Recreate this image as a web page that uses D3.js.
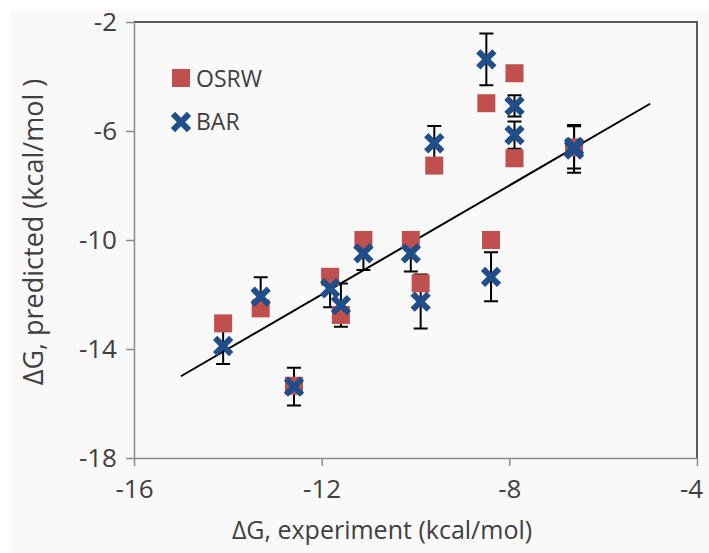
<!DOCTYPE html>
<html>
<head>
<meta charset="utf-8">
<script src="https://cdn.jsdelivr.net/npm/d3@7"></script>
<style>
    body { margin: 0; background: #fff; }
    text { font-family: "Open Sans", "Noto Sans", sans-serif; fill: #404040; }
</style>
</head>
<body>
<div id="chart"></div>
<script>
// Chart data
const xTicks = [-16, -12, -8, -4];
const yTicks = [-18, -14, -10, -6, -2];
const seriesNames = ['OSRW', 'BAR'];

// OSRW predictions against experiment
const osrwExperiment = [-14.10, -13.30, -12.59, -11.82, -11.59, -11.11, -10.10, -9.89, -9.60, -8.49, -8.39, -7.89, -7.89, -6.62];
const osrwPredicted = [-13.06, -12.51, -15.35, -11.35, -12.75, -10.00, -10.00, -11.59, -7.27, -4.98, -10.00, -3.88, -7.00, -6.60];

// BAR predictions with their error bars
const barExperiment = [-14.10, -13.30, -12.59, -11.82, -11.59, -11.11, -10.10, -9.89, -9.60, -8.49, -8.39, -7.89, -7.89, -6.62, -6.62];
const barPredicted = [-13.89, -12.08, -15.38, -11.77, -12.39, -10.49, -10.49, -12.26, -6.45, -3.37, -11.35, -5.08, -6.15, -6.58, -6.68];
const barError = [0.66, 0.71, 0.69, 0.70, 0.79, 0.61, 0.67, 0.99, 0.63, 0.95, 0.90, 0.39, 0.50, 0.80, 0.85];

// Ideal line y = x
const fitLine = [[-15, -15], [-5, -5]];

const width = 709, height = 553;
const plotLeft = 134, plotRight = 697, plotTop = 22, plotBottom = 458;
const red = '#c0504d', blue = '#1f4e8a';

const svg = d3.select('#chart')
    .append('svg')
    .attr('width', width)
    .attr('height', height);

// Light grey background
svg.append('rect')
    .attr('x', 10).attr('y', 10)
    .attr('width', width - 10).attr('height', height - 10)
    .style('fill', '#f9f9f9');

const x = d3.scaleLinear().domain([-16, -4]).range([plotLeft, plotRight]);
const y = d3.scaleLinear().domain([-18, -2]).range([plotBottom, plotTop]);

// Top and right frame
svg.append('path')
    .attr('d', 'M' + plotLeft + ',' + plotTop + 'H' + plotRight + 'V' + plotBottom)
    .style('fill', 'none')
    .style('stroke', '#595959')
    .style('stroke-width', '2px');

// Axes (plain hyphen for the minus sign)
const fmt = d => String(d);
const xAxis = svg.append('g')
    .attr('transform', 'translate(0,' + plotBottom + ')')
    .call(d3.axisBottom(x).tickValues(xTicks).tickFormat(fmt).tickSize(8).tickSizeOuter(0).tickPadding(14));
const yAxis = svg.append('g')
    .attr('transform', 'translate(' + plotLeft + ',0)')
    .call(d3.axisLeft(y).tickValues(yTicks).tickFormat(fmt).tickSize(8).tickSizeOuter(0).tickPadding(9));

[xAxis, yAxis].forEach(axis => {
    axis.select('.domain').style('stroke', '#8c8c8c').style('stroke-width', '1.5px');
    axis.selectAll('.tick line').style('stroke', '#8c8c8c').style('stroke-width', '1.5px');
    axis.selectAll('.tick text')
        .style('font-family', '"Open Sans", sans-serif')
        .style('font-size', '26px')
        .style('fill', '#404040');
});
xAxis.selectAll('.tick text').attr('dy', '0.71em');
// keep the last label inside the page
xAxis.selectAll('.tick text').filter(d => d === -4).attr('x', -6);

// Axis titles
svg.append('text')
    .attr('x', 382)
    .attr('y', 539)
    .attr('text-anchor', 'middle')
    .style('font-size', '25px')
    .text('ΔG, experiment (kcal/mol)');

svg.append('text')
    .attr('transform', 'translate(43,' + 232 + ') rotate(-90)')
    .attr('text-anchor', 'middle')
    .style('font-size', '27px')
    .text('ΔG, predicted (kcal/mol )');

// Ideal line
svg.append('path')
    .datum(fitLine)
    .attr('d', d3.line().x(d => x(d[0])).y(d => y(d[1])))
    .style('fill', 'none')
    .style('stroke', '#000')
    .style('stroke-width', '2px');

// Error bars for BAR
const barData = barExperiment.map((e, i) => ({ x: e, y: barPredicted[i], err: barError[i] }));
const errGroup = svg.append('g');
barData.forEach(d => {
    const cx = x(d.x), y1 = y(d.y - d.err), y2 = y(d.y + d.err);
    errGroup.append('path')
        .attr('d', 'M' + cx + ',' + y1 + 'V' + y2 + 'M' + (cx - 7) + ',' + y1 + 'H' + (cx + 7) + 'M' + (cx - 7) + ',' + y2 + 'H' + (cx + 7))
        .style('fill', 'none')
        .style('stroke', '#000')
        .style('stroke-width', '2px');
});

// OSRW squares
svg.append('g')
    .selectAll('rect')
    .data(osrwExperiment.map((e, i) => ({ x: e, y: osrwPredicted[i] })))
    .enter()
    .append('rect')
        .attr('x', d => x(d.x) - 9)
        .attr('y', d => y(d.y) - 9)
        .attr('width', 18)
        .attr('height', 18)
        .style('fill', red);

// BAR crosses
const cross = d3.symbol().type(d3.symbolX).size(170);
svg.append('g')
    .selectAll('path')
    .data(barData)
    .enter()
    .append('path')
        .attr('transform', d => 'translate(' + x(d.x) + ',' + y(d.y) + ')')
        .attr('d', cross)
        .style('fill', 'none')
        .style('stroke', blue)
        .style('stroke-width', '6px');

// Legend
const legend = svg.append('g');
legend.append('rect')
    .attr('x', 172).attr('y', 69)
    .attr('width', 18).attr('height', 18)
    .style('fill', red);
legend.append('path')
    .attr('transform', 'translate(181,122)')
    .attr('d', cross)
    .style('fill', 'none')
    .style('stroke', blue)
    .style('stroke-width', '6px');
seriesNames.forEach((name, i) => {
    legend.append('text')
        .attr('x', 196)
        .attr('y', 87 + i * 43)
        .style('font-size', '23px')
        .text(name);
});
</script>
</body>
</html>
